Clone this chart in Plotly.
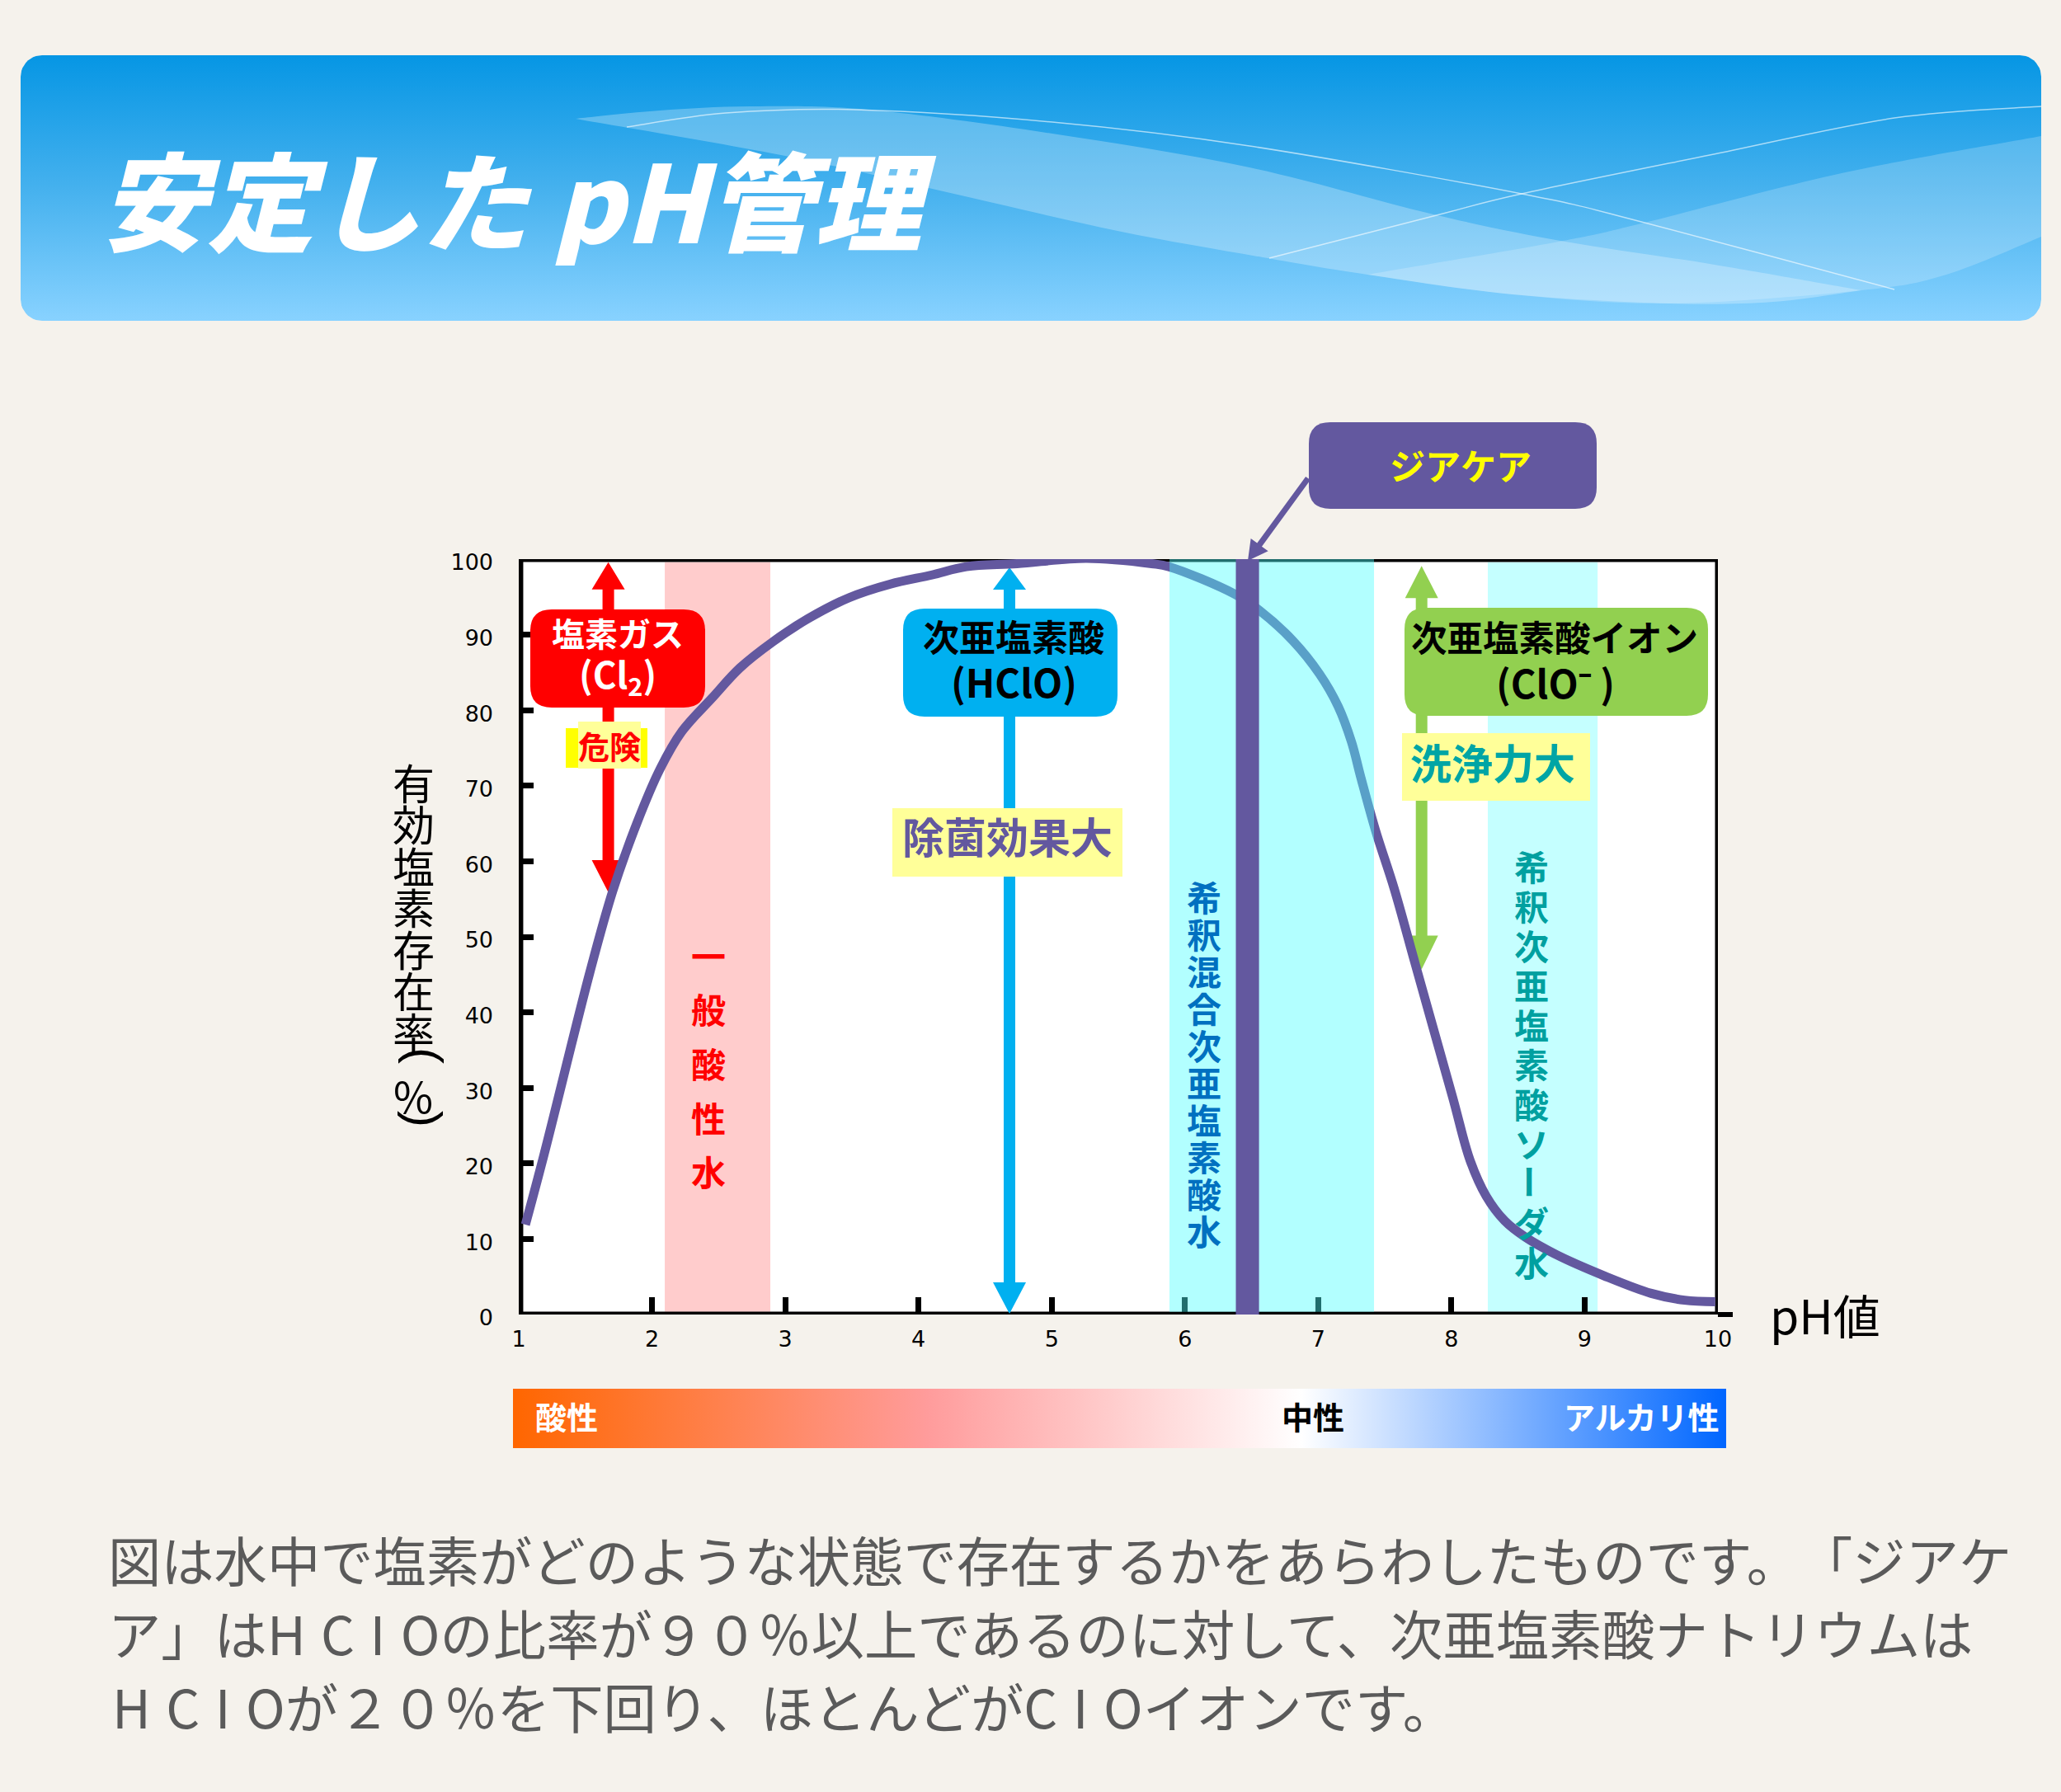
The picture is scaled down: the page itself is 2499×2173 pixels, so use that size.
import numpy as np
import plotly.graph_objects as go

W, H = 2499, 2173
PAGE = "#F5F2EC"
PURPLE = "#63589F"
JP = "Noto Sans CJK JP"

# ---- data ----
ph_points = [1.05, 1.19, 1.532, 1.706, 1.89, 2.06, 2.225, 2.45, 2.66, 2.91, 3.17, 3.48, 3.79,
             4.10, 4.36, 4.74, 5.26, 5.75, 5.88, 6.37, 6.56, 6.81, 7.01, 7.15, 7.25, 7.32, 7.43, 7.57, 7.73,
             8.01, 8.14, 8.26, 8.40, 8.55, 8.79, 9.15, 9.50, 9.75, 9.98]
available_chlorine = [11.9, 21.2, 45.2, 56.1, 65.2, 72.2, 77.2, 81.6, 85.6, 89.1, 92.1, 94.9, 96.7,
                      97.9, 99.0, 99.4, 100.1, 99.4, 99.0, 95.4, 93.2, 89.2, 84.8, 80.5, 75.8, 71.1, 64.1, 56.4, 46.3,
                      28.7, 20.4, 15.7, 12.4, 10.3, 7.9, 5.1, 2.8, 1.9, 1.7]
x_ticks = [1, 2, 3, 4, 5, 6, 7, 8, 9, 10]
y_ticks = [0, 10, 20, 30, 40, 50, 60, 70, 80, 90, 100]
acid_band = [2.096, 2.888]
mixed_band = [5.884, 7.419]
soda_band = [8.273, 9.097]
product_band = [6.382, 6.556]
gas_arrow = [1.672, 55.9, 99.6]
hclo_arrow = [4.683, 0.1, 98.9]
clo_arrow = [7.776, 45.7, 99.1]
title_text = "安定した pH管理"
paragraph = ["図は水中で塩素がどのような状態で存在するかをあらわしたものです。\u200b「ジアケ",
             "ア」はH\u200a C\u200a I\u200a Oの比率が９０％以上であるのに対して、次亜塩素酸ナトリウムは",
             "H\u200a C\u200a I\u200a Oが２０％を下回り、ほとんどがC\u200a I\u200a Oイオンです。"]
y_title = "有効塩素存在率"
acid_water = "一般酸性水"
mixed_water = "希釈混合次亜塩素酸水"
soda_water = "希釈次亜塩素酸ソーダ水"

# ---- pixel helpers for the page furniture ----
PX_X0, PX_X1, PX_Y0, PX_Y1 = 629, 2083, 1594, 678
UX = (PX_X1 - PX_X0) / 9.0
UY = (PX_Y0 - PX_Y1) / 100.0


def fx(x):
    return x / W


def fy(y):
    return 1 - y / H


def pt(x, y):
    return f"{fx(x):.5f},{fy(y):.5f}"


def rrect(x0, y0, x1, y1, r):
    return (f"M{pt(x0 + r, y0)} L{pt(x1 - r, y0)} Q{pt(x1, y0)} {pt(x1, y0 + r)} "
            f"L{pt(x1, y1 - r)} Q{pt(x1, y1)} {pt(x1 - r, y1)} "
            f"L{pt(x0 + r, y1)} Q{pt(x0, y1)} {pt(x0, y1 - r)} "
            f"L{pt(x0, y0 + r)} Q{pt(x0, y0)} {pt(x0 + r, y0)} Z")


def smooth(points):
    out = []
    n = len(points)
    for i in range(n - 1):
        p0 = points[max(i - 1, 0)]
        p1 = points[i]
        p2 = points[i + 1]
        p3 = points[min(i + 2, n - 1)]
        c1 = (p1[0] + (p2[0] - p0[0]) / 6, p1[1] + (p2[1] - p0[1]) / 6)
        c2 = (p2[0] - (p3[0] - p1[0]) / 6, p2[1] - (p3[1] - p1[1]) / 6)
        out.append(f"C{pt(*c1)} {pt(*c2)} {pt(*p2)}")
    return " ".join(out)


def ribbon(top, bottom):
    return f"M{pt(*top[0])} {smooth(top)} L{pt(*bottom[0])} {smooth(bottom)} Z"


def curve(points):
    return f"M{pt(*points[0])} {smooth(points)}"


def box(x0, y0, x1, y1, color, r=26):
    return dict(type="path", xref="paper", yref="paper", path=rrect(x0, y0, x1, y1, r),
                fillcolor=color, line=dict(width=0), layer="above")


def flat(x0, y0, x1, y1, color):
    return box(x0, y0, x1, y1, color, r=0.01)


def band(xs, color, layer, y0=0.35, y1=99.6):
    return dict(type="rect", xref="x", yref="y", x0=xs[0], x1=xs[1], y0=y0, y1=y1,
                fillcolor=color, line=dict(width=0), layer=layer)


def label(x, y, text, size, color="black", bold=True, anchor="center", family=JP, angle=0, weight=None, **font_kw):
    font = dict(family=family, size=size, color=color, weight=weight or (700 if bold else 400), **font_kw)
    return dict(xref="paper", yref="paper", x=fx(x), y=fy(y), text=text, showarrow=False,
                xanchor=anchor, yanchor="middle", font=font, textangle=angle, borderpad=0, borderwidth=0)


def column(x, first_y, step, chars, size, color, bold=True):
    res = []
    for i, c in enumerate(chars):
        res.append(label(x, first_y + i * step, c, size, color, bold, angle=90 if c == "ー" else 0))
    return res


def rounded_outline(x0, y0, x1, y1, r):
    t = np.linspace(0, np.pi / 2, 12)
    xs, ys = [], []
    for cx, cy, a in [(x1 - r, y0 + r, -np.pi / 2), (x1 - r, y1 - r, 0), (x0 + r, y1 - r, np.pi / 2), (x0 + r, y0 + r, np.pi)]:
        xs += list(cx + r * np.cos(a + t))
        ys += list(cy + r * np.sin(a + t))
    return xs + xs[:1], ys + ys[:1]


def arrow_polygon(spec, head_top, head_bottom, head_w=40, shaft=14):
    x, low, high = spec
    hw, sw = head_w / 2 / UX, shaft / 2 / UX
    ht, hb = head_top / UY, head_bottom / UY
    xs = [x, x + hw, x + sw, x + sw, x + hw, x, x - hw, x - sw, x - sw, x - hw, x]
    ys = [high, high - ht, high - ht, low + hb, low + hb, low, low + hb, low + hb, high - ht, high - ht, high]
    return xs, ys


def pointer_path(x0, y0, x1, y1, shaft=7, head_w=26, head_l=24):
    d = np.array([x1 - x0, y1 - y0], float)
    d /= np.hypot(*d)
    n = np.array([-d[1], d[0]])
    a, b = np.array([x0, y0], float), np.array([x1, y1], float)
    base = b - d * head_l
    pts = [a + n * shaft / 2, base + n * shaft / 2, base + n * head_w / 2, b, base - n * head_w / 2,
           base - n * shaft / 2, a - n * shaft / 2]
    return "M" + " L".join(pt(*p) for p in pts) + " Z"


fig = go.Figure()

# gradient header and pH strip on a page-sized hidden pair of axes
hx, hy = rounded_outline(25, 67, 2475, 389, 26)
fig.add_trace(go.Scatter(x=hx, y=hy, xaxis="x2", yaxis="y2", mode="lines", line=dict(width=0), fill="toself",
                         fillgradient=dict(type="vertical", start=67, stop=389,
                                           colorscale=[[0, "#0696E4"], [0.5, "#45B1EE"], [1, "#88D2FF"]]),
                         hoverinfo="skip"))
sx, sy = rounded_outline(622, 1684, 2093, 1756, 0.01)
fig.add_trace(go.Scatter(x=sx, y=sy, xaxis="x2", yaxis="y2", mode="lines", line=dict(width=0), fill="toself",
                         fillgradient=dict(type="horizontal", start=622, stop=2093,
                                           colorscale=[[0, "#FF6600"], [0.343, "#FF9C9C"], [0.65, "#FFFFFF"], [1, "#0066FF"]]),
                         hoverinfo="skip"))

# arrows sit under the curve
for spec, color, top, bot in [(gas_arrow, "#FF0000", 33, 39), (hclo_arrow, "#00B0F0", 27, 38), (clo_arrow, "#92D050", 39, 41)]:
    ax_, ay_ = arrow_polygon(spec, top, bot)
    fig.add_trace(go.Scatter(x=ax_, y=ay_, mode="lines", line=dict(width=0), fill="toself", fillcolor=color, hoverinfo="skip"))

# the curve
fig.add_trace(go.Scatter(x=ph_points, y=available_chlorine, mode="lines", cliponaxis=False,
                         line=dict(color=PURPLE, width=11, shape="spline", smoothing=1.0), hoverinfo="skip"))

ribbon_a_top = [(698, 144), (800, 134), (909, 129), (1053, 133), (1276, 162), (1515, 203), (1738, 260), (1898, 293), (2073, 320), (2257, 352)]
ribbon_a_bot = [(2257, 352), (2150, 366), (2025, 368), (1834, 357), (1658, 333), (1531, 312), (1355, 280), (1148, 233), (957, 190), (698, 144)]
ribbon_b_top = [(2475, 165), (2233, 210), (1994, 270), (1890, 293), (1658, 333)]
ribbon_b_bot = [(1658, 333), (1834, 357), (2025, 368), (2257, 352), (2360, 333), (2475, 287)]
line_a = [(760, 154), (880, 137), (1037, 133), (1276, 148), (1515, 177), (1845, 235), (1994, 270), (2297, 351)]
line_b = [(1539, 313), (1738, 262), (1845, 235), (2073, 188), (2297, 143), (2475, 129)]

shapes = [
    dict(type="rect", xref="x", yref="y", x0=1, x1=10, y0=0, y1=100, fillcolor="white", line=dict(width=0), layer="below"),
    band(acid_band, "#FFCCCC", "below"),
    band(soda_band, "#C5FFFF", "below"),
    dict(type="rect", xref="x", yref="y", x0=1.012, x1=10, y0=0, y1=100, fillcolor="rgba(0,0,0,0)",
         line=dict(color="black", width=7), layer="below"),
    flat(2083, 1591, 2101, 1597, "black"),
    band(mixed_band, "rgba(77,255,255,0.43)", "above", 0.35, 100.3),
    band(product_band, PURPLE, "above", 0, 100.2),
    dict(type="path", xref="paper", yref="paper", path=ribbon(ribbon_a_top, ribbon_a_bot), fillcolor="rgba(255,255,255,0.27)", line=dict(width=0), layer="above"),
    dict(type="path", xref="paper", yref="paper", path=ribbon(ribbon_b_top, ribbon_b_bot), fillcolor="rgba(255,255,255,0.2)", line=dict(width=0), layer="above"),
    dict(type="path", xref="paper", yref="paper", path=curve(line_a), line=dict(color="rgba(255,255,255,0.6)", width=1.5), layer="above"),
    dict(type="path", xref="paper", yref="paper", path=curve(line_b), line=dict(color="rgba(255,255,255,0.6)", width=1.5), layer="above"),
    dict(type="path", xref="paper", yref="paper", path=pointer_path(1586, 580, 1513, 680), fillcolor=PURPLE, line=dict(width=0), layer="above"),
    box(643, 739, 855, 858, "#FF0000"),
    box(1095, 738, 1355, 869, "#00B0F0"),
    box(1703, 737, 2071, 868, "#92D050"),
    box(1587, 512, 1936, 617, PURPLE),
    flat(686, 883, 785, 931, "#FFFF00"),
    flat(701, 875, 777, 932, "#FFFF99"),
    flat(1082, 980, 1361, 1063, "#FFFF99"),
    flat(1700, 889, 1928, 971, "#FFFF99"),
]

ann = [
    label(121, 238, title_text, 130, "white", family=JP, anchor="left", style="italic", weight=900),
    label(749, 767, "塩素ガス", 40, "white"),
    label(749, 819, "(Cl<sub>2</sub>)", 44, "white"),
    label(739, 903, "危険", 38, "#FF0000"),
    label(1229, 771, "次亜塩素酸", 44, "black"),
    label(1229, 825, "(HClO)", 47, "black"),
    label(1221, 1013, "除菌効果大", 51, PURPLE),
    label(1771, 563, "ジアケア", 43, "#FFFF00"),
    label(1885, 771, "次亜塩素酸イオン", 43.5, "black"),
    label(1886, 826, "(ClO⁻ )", 47, "black"),
    label(1810, 923, "洗浄力大", 50, "#00A5A5"),
    label(2213, 1593, "pH値", 57, "black", bold=False),
    label(687, 1716, "酸性", 38, "white"),
    label(1592, 1716, "中性", 38, "black"),
    label(1990, 1716, "アルカリ性", 38, "white"),
]
ann += column(859, 1157, 65.7, acid_water, 42, "#FF0000")
ann += column(1460, 1086, 45, mixed_water, 42, "#0070C0")
ann += column(1857, 1050, 47.9, soda_water, 42, "#00A0A0")
ann += column(501, 948, 50.4, y_title, 51, "black", bold=False)
ann += [label(501, 1328, "％", 52, "black", bold=False),
        label(515, 1280, "(", 60, "black", bold=False, family="Liberation Sans", angle=90),
        label(515, 1357, ")", 60, "black", bold=False, family="Liberation Sans", angle=90)]
for line, yy, xx in zip(paragraph, [1890, 1979, 2068], [131, 131, 136]):
    ann.append(label(xx, yy, line, 64.3, "#5A5A5A", bold=False, anchor="left"))

fig.update_layout(
    width=W, height=H, margin=dict(l=0, r=0, t=0, b=0, pad=0, autoexpand=False), autosize=False,
    paper_bgcolor=PAGE, plot_bgcolor="rgba(0,0,0,0)", showlegend=False, hovermode=False,
    shapes=shapes, annotations=ann,
    xaxis=dict(domain=[fx(PX_X0), fx(PX_X1)], range=[1, 10], tickvals=x_ticks, ticks="inside", ticklen=21, tickwidth=7,
               tickcolor="black", showgrid=False, zeroline=False, showline=False, ticklabelstandoff=11,
               tickfont=dict(family="DejaVu Sans", size=27, color="black"), anchor="y"),
    yaxis=dict(domain=[fy(PX_Y0), fy(PX_Y1)], range=[0, 100], tickvals=y_ticks, ticks="inside", ticklen=18, tickwidth=7,
               tickcolor="black", showgrid=False, zeroline=False, showline=False, ticklabelstandoff=30, ticklabelshift=4,
               tickfont=dict(family="DejaVu Sans", size=27, color="black"), anchor="x"),
    xaxis2=dict(domain=[0, 1], range=[0, W], visible=False, anchor="y2"),
    yaxis2=dict(domain=[0, 1], range=[H, 0], visible=False, anchor="x2"),
)

fig.write_html("out.html", config=dict(displayModeBar=False),
               post_script=f"document.body.style.margin='0';document.body.style.background='{PAGE}';")
